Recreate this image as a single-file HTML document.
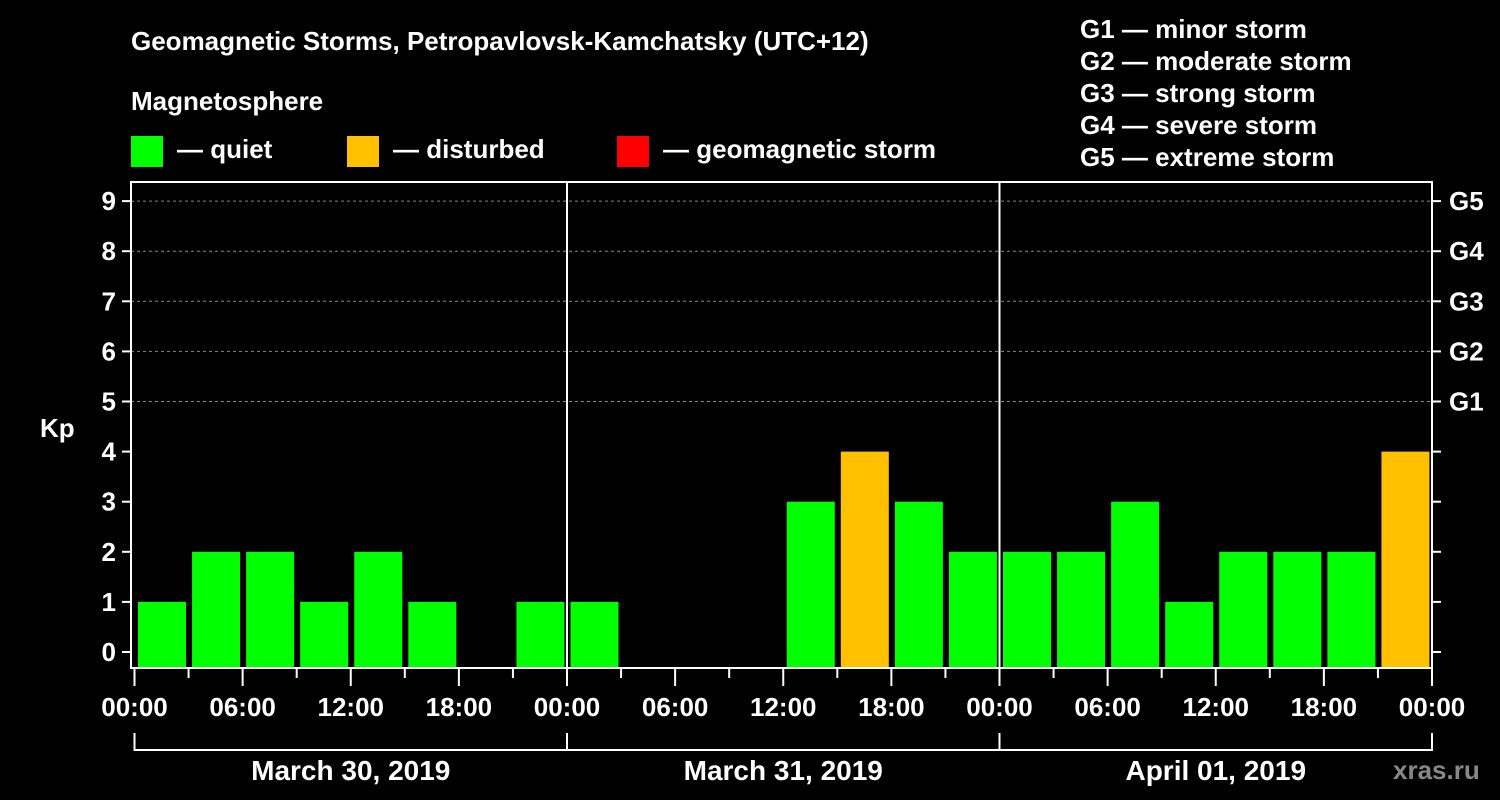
<!DOCTYPE html>
<html><head><meta charset="utf-8"><style>
body{margin:0;background:#000;width:1500px;height:800px;overflow:hidden}
svg{display:block;font-family:"Liberation Sans",sans-serif;font-weight:bold}
</style></head><body>
<svg id="c" width="1500" height="800">
<g fill="#fff" font-size="26">
<text x="131" y="50">Geomagnetic Storms, Petropavlovsk-Kamchatsky (UTC+12)</text>
<text x="131" y="110">Magnetosphere</text>
<rect x="131" y="136" width="32" height="31" fill="#00ff00"/>
<text x="177" y="158">— quiet</text>
<rect x="347" y="136" width="32" height="31" fill="#ffc000"/>
<text x="393" y="158">— disturbed</text>
<rect x="617" y="136" width="32" height="31" fill="#ff0000"/>
<text x="663" y="158">— geomagnetic storm</text>
<text x="1080" y="38">G1 — minor storm</text>
<text x="1080" y="70">G2 — moderate storm</text>
<text x="1080" y="102">G3 — strong storm</text>
<text x="1080" y="134">G4 — severe storm</text>
<text x="1080" y="166">G5 — extreme storm</text>
<text x="40" y="437">Kp</text>
<text x="1393" y="779" fill="#888">xras.ru</text>
</g>
<g id="plot"></g>
</svg>
<script>
const kpValues=[1,2,2,1,2,1,0,1, 1,0,0,0,3,4,3,2, 2,2,3,1,2,2,2,4];
const dayLabels=["March 30, 2019","March 31, 2019","April 01, 2019"];
const hourLabels=["00:00","06:00","12:00","18:00"];
const gLabels=["G1","G2","G3","G4","G5"];
const NS="http://www.w3.org/2000/svg";
const L=131,R=1432,T=182,B=668,X0=134.5,DAY=432.5;
const y=v=>652-v*50.1;
const x=h=>X0+h/24*DAY;
const g=document.getElementById('plot');
function mk(t,a,txt){const e=document.createElementNS(NS,t);for(const k in a)e.setAttribute(k,a[k]);if(txt!==undefined)e.textContent=txt;g.appendChild(e);return e;}
// grid
for(let v=5;v<=9;v++){const e=mk('line',{x1:L,x2:R,y1:y(v),y2:y(v),stroke:'#888','stroke-dasharray':'3,3'});

}
// bars
kpValues.forEach((v,i)=>{if(v<=0)return;
const e=mk('rect',{x:x(i*3)+3.5,width:48,y:y(v),height:B-y(v),fill:v>=5?'#ff0000':(v>=4?'#ffc000':'#00ff00')});

});
// frame
const f=mk('path',{d:`M${L},${T}H${R}V${B}H${L}Z`,fill:'none',stroke:'#fff','stroke-width':2});


for(let d=1;d<3;d++){const e=mk('line',{x1:x(d*24),x2:x(d*24),y1:T,y2:B,stroke:'#fff','stroke-width':2});

}
// y ticks
for(let v=0;v<=9;v++){
mk('line',{x1:122,x2:L,y1:y(v),y2:y(v),stroke:'#fff','stroke-width':2});
mk('line',{x1:R,x2:1441,y1:y(v),y2:y(v),stroke:'#fff','stroke-width':2});
const t=mk('text',{x:116,y:y(v)+9,fill:'#fff','font-size':26,'text-anchor':'end'},v);

}
gLabels.forEach((s,i)=>{const t=mk('text',{x:1449,y:y(5+i)+9,fill:'#fff','font-size':26},s);

});
// x ticks
for(let h=0;h<=72;h+=3){const major=h%6===0;
mk('line',{x1:x(h),x2:x(h),y1:B,y2:major?686:678,stroke:'#fff','stroke-width':2});
if(major){const t=mk('text',{x:x(h),y:716,fill:'#fff','font-size':26,'text-anchor':'middle'},hourLabels[(h/6)%4]);

}}
// day brackets
mk('path',{d:`M${x(0)},733V750H${x(72)}V733`,fill:'none',stroke:'#fff','stroke-width':2});
dayLabels.forEach((s,i)=>{mk('line',{x1:x(24*i),x2:x(24*i),y1:733,y2:750,stroke:'#fff','stroke-width':2});
const t=mk('text',{x:x(24*i+12),y:780,fill:'#fff','font-size':28,'text-anchor':'middle'},s);

});
</script>
</body></html>
